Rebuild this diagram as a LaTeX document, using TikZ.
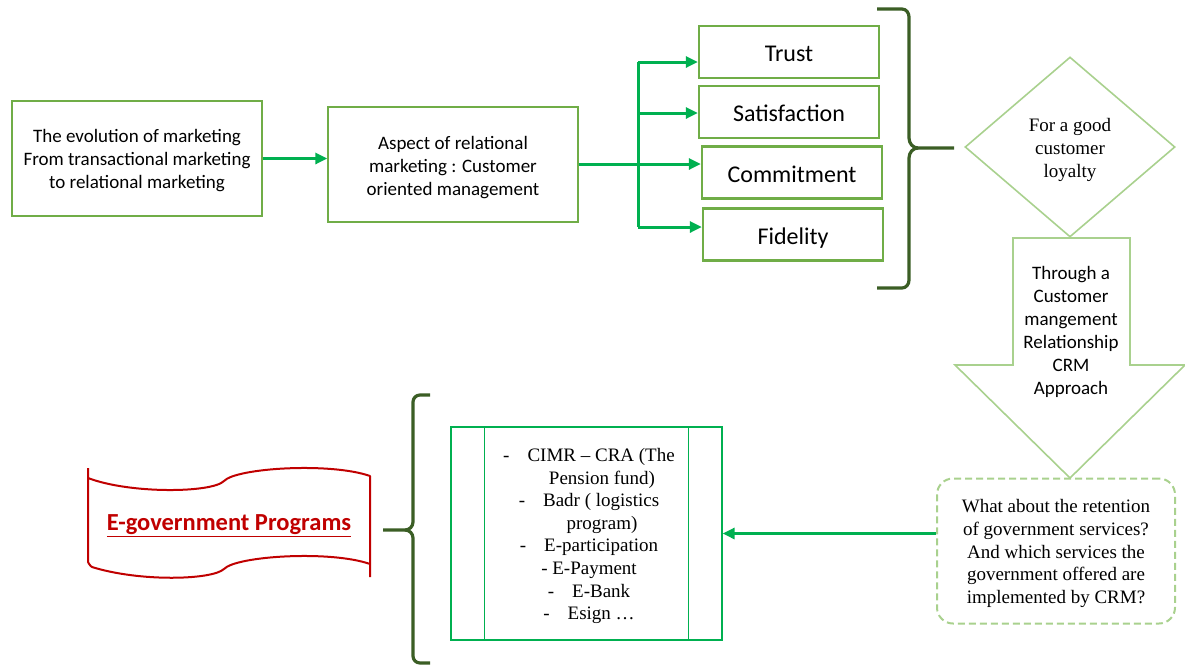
\documentclass[tikz,border=0pt]{standalone}
\usepackage{fontspec}
\setmainfont{Carlito}
\newfontfamily\timesf{Liberation Serif}
\usetikzlibrary{arrows.meta,shapes.geometric}
\definecolor{boxgreen}{HTML}{70AD47}
\definecolor{arrowgreen}{HTML}{00B050}
\definecolor{bracegreen}{HTML}{3B5E25}
\definecolor{palegreen}{HTML}{A9D18E}
\definecolor{darkred}{HTML}{C00000}
\tikzset{
  box/.style={draw=boxgreen, line width=1.4pt, minimum width=250pt, minimum height=115pt, inner sep=0pt},
  boxtext/.style={align=center, font=\fontsize{19}{23}\selectfont, inner sep=0pt},
  item/.style={draw=boxgreen, line width=2.4pt, minimum width=180pt, minimum height=52pt,
    font=\fontsize{24}{28}\selectfont, inner sep=0pt, text height=19pt, text depth=0pt},
  arr/.style={draw=arrowgreen, line width=3pt, -{Triangle[length=12pt,width=11pt]}},
  link/.style={draw=arrowgreen, line width=3pt},
  brace/.style={draw=bracegreen, line width=3.2pt, line join=round},
  serif/.style={font=\timesf\fontsize{19}{22.6}\selectfont, align=center, inner sep=0pt}
}
\begin{document}
\begin{tikzpicture}[x=1pt,y=-1pt]
\useasboundingbox (0,0) rectangle (1185,665);

% first row of boxes
\node[box] (evo) at (137,158.5) {};
\node[boxtext] (evot) at ([yshift=-2pt]evo.center) {The evolution of marketing\\From transactional marketing\\to relational marketing};
\node[box] (asp) at (453,164.5) {};
\node[boxtext] (aspt) at ([yshift=-3pt]asp.center) {Aspect of relational\\marketing : Customer\\oriented management};
\draw[arr] (evo.east) -- (asp.west |- evo.east);

% the four pillars
\node[item] (trust) at (789,52)  {Trust};
\node[item] (sat)   at (789,112) {Satisfaction};
\node[item] (com)   at (792,172.5) {Commitment};
\node[item] (fid)   at (793,234.5) {Fidelity};

\coordinate (split) at (638,164);
\draw[link] (asp.east |- split) -- (split);
\draw[link] (638,62) -- (638,227);
\draw[arr] (638,62) -- (trust.west |- 0,62);
\draw[arr] (638,113) -- (sat.west |- 0,113);
\draw[arr] (638,164) -- (com.west |- 0,164);
\draw[arr] (638,227) -- (fid.west |- 0,227);

% right brace gathering the pillars
\draw[brace] (877,9) -- (902,9) to[out=0,in=90] (909,17) -- (909,138)
  to[out=-90,in=180] (918,148) -- (954,148);
\draw[brace] (918,148) to[out=180,in=90] (909,158) -- (909,280)
  to[out=-90,in=0] (902,288) -- (877,288);

% loyalty diamond
\node[draw=palegreen, line width=1.6pt, shape=diamond, minimum width=210pt, minimum height=180pt,
  inner sep=0pt] (loy) at (1070,147) {};
\node[serif] (loyt) at ([yshift=-3pt]loy.center) {For a good\\customer\\loyalty};

% down block arrow
\draw[draw=palegreen, line width=1.6pt, line join=miter]
  (1013,238) -- (1130,238) -- (1130,365) -- (1185,365) -- (1070,478) -- (955,365) -- (1013,365) -- cycle;
\node[boxtext] (crm) at (1071,331.5)
  {Through a\\Customer\\mangement\\Relationship\\CRM\\Approach};

% question box
\node[draw=palegreen, line width=2pt, dash pattern=on 7pt off 4pt, rounded corners=16pt,
  minimum width=238pt, minimum height=145pt, inner sep=0pt] (q) at (1056,551) {};
\node[serif] (qt) at ([yshift=-2.5pt]q.center)
  {What about the retention\\of government services?\\And which services the\\government offered are\\implemented by CRM?};

% programmes list
\node[draw=arrowgreen, line width=1.3pt, minimum width=271pt, minimum height=213pt, inner sep=0pt] (prog) at (586.5,533.5) {};
\draw[arrowgreen, line width=1.3pt] ([xshift=34pt]prog.north west) -- ([xshift=34pt]prog.south west);
\draw[arrowgreen, line width=1.3pt] ([xshift=-34pt]prog.north east) -- ([xshift=-34pt]prog.south east);
\node[serif] (list) at (589,536)
  {-\hspace{18pt}CIMR – CRA (The\\
   \hspace{26pt}Pension fund)\\
   -\hspace{18pt}Badr ( logistics\\
   \hspace{26pt}program)\\
   -\hspace{18pt}E-participation\\
   - E-Payment\\
   -\hspace{18pt}E-Bank\\
   -\hspace{18pt}Esign …};

\coordinate (qa) at ([yshift=17.5pt]q.west);
\draw[arr] (qa) -- (qa -| prog.east);

% left brace
\draw[brace] (430,395) -- (420,395) to[out=180,in=90] (413,402) -- (413,522)
  to[out=-90,in=0] (405,530) -- (383,530);
\draw[brace] (405,530) to[out=0,in=90] (413,538) -- (413,656)
  to[out=-90,in=180] (420,663) -- (430,663);

% red scroll banner
\draw[darkred, line width=2pt, line join=round]
  (88,468) -- (88,478) .. controls (130,494) and (212,493) .. (224,481)
  .. controls (236,468) and (330,462) .. (370,476) -- (370,577);
\draw[darkred, line width=2pt, line join=round]
  (88,478) -- (88,562) .. controls (88,562) and (90,566) .. (92,567)
  .. controls (140,582) and (212,580) .. (224,569)
  .. controls (236,556) and (330,550) .. (370,564);
\node[text=darkred, font=\bfseries\fontsize{24.5}{28}\selectfont] (egov) at (229,526)
  {\underline{E-government Programs}};
\end{tikzpicture}
\end{document}
